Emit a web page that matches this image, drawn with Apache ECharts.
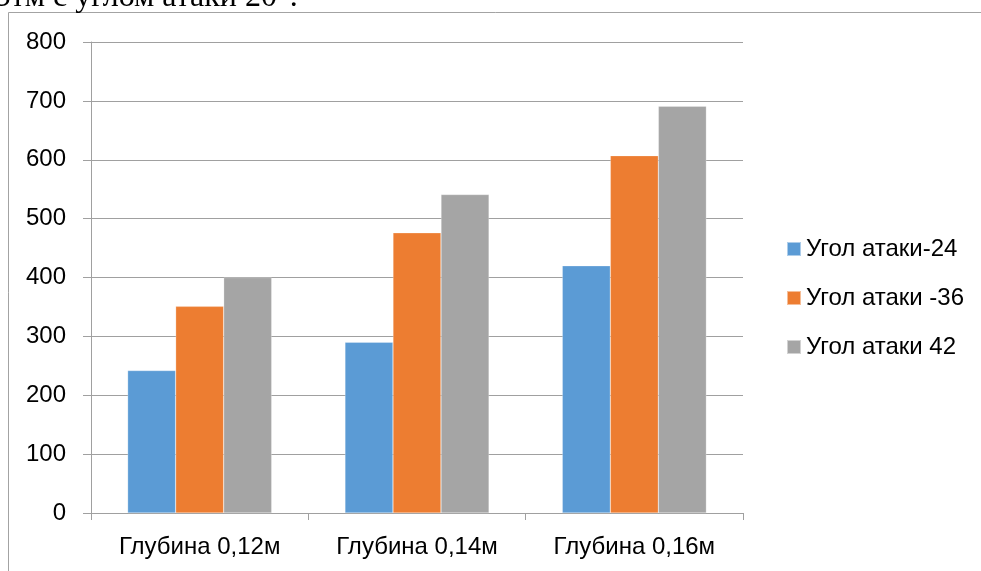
<!DOCTYPE html>
<html>
<head>
<meta charset="utf-8">
<script src="https://cdn.jsdelivr.net/npm/echarts@6/dist/echarts.min.js"></script>
<style>
  html, body { margin: 0; padding: 0; background: #fff; }
  #chart { width: 981px; height: 571px; }
</style>
</head>
<body>
<div id="chart"></div>
<script>
// Categories (depths) and the three angle-of-attack series
const categories = ['Глубина 0,12м', 'Глубина 0,14м', 'Глубина 0,16м'];
const seriesNames = ['Угол атаки-24', 'Угол атаки -36', 'Угол атаки 42'];
const angle24 = [242, 290, 420];
const angle36 = [351, 476, 607];
const angle42 = [400, 541, 691];
const yTicks = [0, 100, 200, 300, 400, 500, 600, 700, 800];

const colors = ['#5B9BD5', '#ED7D31', '#A5A5A5'];
const axisGray = '#a0a0a0';
const font = '"Liberation Sans", Arial, sans-serif';

const chart = echarts.init(document.getElementById('chart'), null, { renderer: 'canvas' });

const values = [angle24, angle36, angle42];

chart.setOption({
  animation: false,
  backgroundColor: '#ffffff',
  color: colors,
  graphic: [
    {
      // running text of the page above the chart frame
      type: 'text',
      left: -3,
      top: -18,
      style: {
        text: 'этм с углом атаки 20°.',
        font: '32px "Liberation Serif", "Times New Roman", serif',
        fill: '#000'
      },
      silent: true
    },
    {
      // chart frame
      type: 'rect',
      shape: { x: 8.5, y: 12.5, width: 1100, height: 700 },
      style: { fill: 'none', stroke: '#a3a3a3', lineWidth: 1 },
      silent: true,
      z: -1
    }
  ],
  grid: {
    left: 91,
    right: 238,
    top: 42,
    bottom: 58,
    containLabel: false
  },
  legend: {
    orient: 'vertical',
    left: 786,
    top: 237,
    padding: 0,
    itemWidth: 14,
    itemHeight: 14,
    itemGap: 25,
    icon: 'rect',
    data: seriesNames,
    textStyle: {
      fontFamily: font,
      fontSize: 24,
      color: '#000',
      lineHeight: 24
    }
  },
  xAxis: {
    type: 'category',
    data: categories,
    axisLine: { show: true, lineStyle: { color: axisGray, width: 1 } },
    axisTick: { show: true, alignWithLabel: false, length: 7, inside: false, lineStyle: { color: axisGray } },
    axisLabel: {
      fontFamily: font,
      fontSize: 24,
      color: '#000',
      margin: 22
    },
    splitLine: { show: false }
  },
  yAxis: {
    type: 'value',
    min: yTicks[0],
    max: yTicks[yTicks.length - 1],
    interval: yTicks[1] - yTicks[0],
    axisLine: { show: true, lineStyle: { color: axisGray, width: 1 } },
    axisTick: { show: true, length: 8, lineStyle: { color: axisGray } },
    axisLabel: {
      fontFamily: font,
      fontSize: 24,
      color: '#000',
      margin: 25
    },
    splitLine: { show: true, lineStyle: { color: axisGray, width: 1 } }
  },
  series: seriesNames.map((name, i) => ({
    name: name,
    type: 'bar',
    data: values[i],
    barGap: '0%',
    barCategoryGap: '33.7%',
    itemStyle: { color: colors[i], borderColor: 'rgba(255,255,255,0.5)', borderWidth: 0.5 }
  }))
});
</script>
</body>
</html>
